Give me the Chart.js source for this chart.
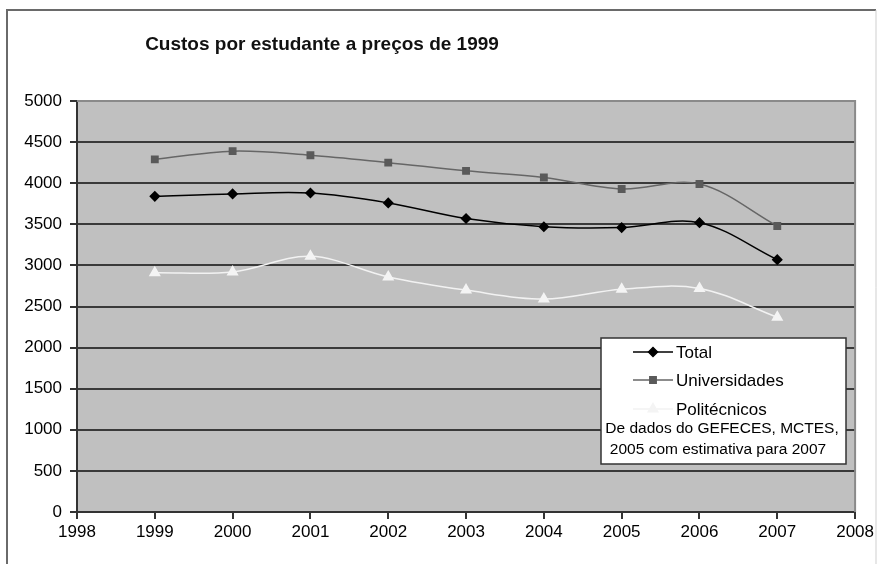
<!DOCTYPE html>
<html>
<head>
<meta charset="utf-8">
<script src="https://cdn.jsdelivr.net/npm/chart.js@4"></script>
<style>
html,body{margin:0;padding:0;background:#fff;}
#wrap{width:877px;height:564px;position:relative;}
</style>
</head>
<body>
<div id="wrap"><canvas id="c" width="877" height="564"></canvas></div>
<script>
const titleText = 'Custos por estudante a preços de 1999';
const years = [1999, 2000, 2001, 2002, 2003, 2004, 2005, 2006, 2007];
const total = [3840, 3870, 3880, 3760, 3570, 3470, 3460, 3520, 3070];
const universidades = [4290, 4390, 4340, 4250, 4150, 4070, 3930, 3990, 3480];
const politecnicos = [2910, 2920, 3110, 2860, 2700, 2590, 2710, 2720, 2370];
const seriesNames = ['Total', 'Universidades', 'Politécnicos'];
const noteLines = ['De dados do GEFECES, MCTES,', '2005 com estimativa para 2007'];
const xMin = 1998, xMax = 2008, yMin = 0, yMax = 5000, yStep = 500;

const pts = arr => years.map((y, i) => ({x: y, y: arr[i]}));
const FONT = '"Liberation Sans", Arial, sans-serif';

const framePlugin = {
  id: 'frame',
  beforeDraw(chart) {
    const ctx = chart.ctx, a = chart.chartArea;
    ctx.save();
    ctx.fillStyle = '#fff';
    ctx.fillRect(0, 0, chart.width, chart.height);
    ctx.strokeStyle = '#6a6a6a';
    ctx.lineWidth = 2;
    ctx.beginPath();
    ctx.moveTo(7, 600); ctx.lineTo(7, 10); ctx.lineTo(876, 10);
    ctx.stroke();
    ctx.strokeStyle = '#cfcfcf';
    ctx.lineWidth = 1;
    ctx.beginPath();
    ctx.moveTo(876, 10); ctx.lineTo(876, 600);
    ctx.stroke();
    ctx.fillStyle = '#c0c0c0';
    ctx.fillRect(a.left, a.top, a.right - a.left, a.bottom - a.top);
    ctx.fillStyle = '#111';
    ctx.font = 'bold 19px ' + FONT;
    ctx.textAlign = 'center';
    ctx.textBaseline = 'middle';
    ctx.fillText(titleText, 322, 45);
    ctx.restore();
  },
  beforeDatasetsDraw(chart) {
    const ctx = chart.ctx, a = chart.chartArea;
    ctx.save();
    ctx.strokeStyle = '#8a8a8a';
    ctx.lineWidth = 2;
    ctx.beginPath();
    ctx.moveTo(a.left, a.top); ctx.lineTo(a.right, a.top); ctx.lineTo(a.right, a.bottom);
    ctx.stroke();
    ctx.restore();
  },
  afterDatasetsDraw(chart) {
    const ctx = chart.ctx;
    const bx = 601, by = 338, bw = 245, bh = 126;
    ctx.save();
    ctx.fillStyle = '#fff';
    ctx.fillRect(bx, by, bw, bh);
    ctx.strokeStyle = '#333';
    ctx.lineWidth = 1.5;
    ctx.strokeRect(bx, by, bw, bh);
    const rows = [352, 380, 409];
    chart.data.datasets.forEach((ds, i) => {
      const y = rows[i];
      ctx.strokeStyle = ds.borderColor;
      ctx.lineWidth = ds.borderWidth;
      ctx.beginPath();
      ctx.moveTo(633, y); ctx.lineTo(673, y);
      ctx.stroke();
      ctx.fillStyle = ds.pointBackgroundColor;
      ctx.strokeStyle = ds.pointBorderColor;
      Chart.helpers.drawPoint(ctx, {pointStyle: ds.pointStyle, radius: ds.pointRadius, rotation: 0, borderWidth: 1}, 653, y);
      ctx.fillStyle = '#000';
      ctx.font = '17px ' + FONT;
      ctx.textAlign = 'left';
      ctx.textBaseline = 'middle';
      ctx.fillText(ds.label, 676, y + 1);
    });
    ctx.font = '15.5px ' + FONT;
    ctx.textAlign = 'center';
    ctx.fillStyle = '#000';
    ctx.fillText(noteLines[0], 722, 429);
    ctx.fillText(noteLines[1], 718, 450);
    ctx.restore();
  }
};

new Chart(document.getElementById('c'), {
  type: 'line',
  data: {
    datasets: [
      {label: seriesNames[0], data: pts(total), borderColor: '#000', borderWidth: 1.5,
       pointStyle: 'rectRot', pointRadius: 4.5, pointBackgroundColor: '#000', pointBorderColor: '#000', tension: 0.35},
      {label: seriesNames[1], data: pts(universidades), borderColor: '#666', borderWidth: 1.5,
       pointStyle: 'rect', pointRadius: 4.5, pointBackgroundColor: '#5a5a5a', pointBorderColor: '#5a5a5a', tension: 0.35},
      {label: seriesNames[2], data: pts(politecnicos), borderColor: '#f2f2f2', borderWidth: 1.5,
       pointStyle: 'triangle', pointRadius: 5.5, pointBackgroundColor: '#f4f4f4', pointBorderColor: '#f4f4f4', tension: 0.35}
    ]
  },
  options: {
    responsive: false,
    animation: false,
    events: [],
    layout: {padding: {left: 0, top: 101, right: 20, bottom: 0}},
    plugins: {legend: {display: false}, title: {display: false}, tooltip: {enabled: false}},
    scales: {
      x: {
        type: 'linear', min: xMin, max: xMax,
        afterFit(s) { s.height = 52; },
        border: {display: true, color: '#333', width: 2},
        grid: {drawOnChartArea: false, color: '#333', tickColor: '#333', tickLength: 7, lineWidth: 2},
        ticks: {stepSize: 1, padding: 3, color: '#000', maxRotation: 0, autoSkip: false,
                font: {family: FONT, size: 17},
                callback: v => String(v)}
      },
      y: {
        min: yMin, max: yMax,
        afterFit(s) { s.width = 77; },
        border: {display: true, color: '#333', width: 2},
        grid: {color: c => (c.tick && c.tick.value === yMax) ? 'rgba(0,0,0,0)' : '#3a3a3a',
               tickColor: '#333', tickLength: 7, lineWidth: 2},
        ticks: {stepSize: yStep, padding: 8, color: '#000',
                font: {family: FONT, size: 17},
                callback: v => String(v)}
      }
    }
  },
  plugins: [framePlugin]
});
</script>
</body>
</html>
